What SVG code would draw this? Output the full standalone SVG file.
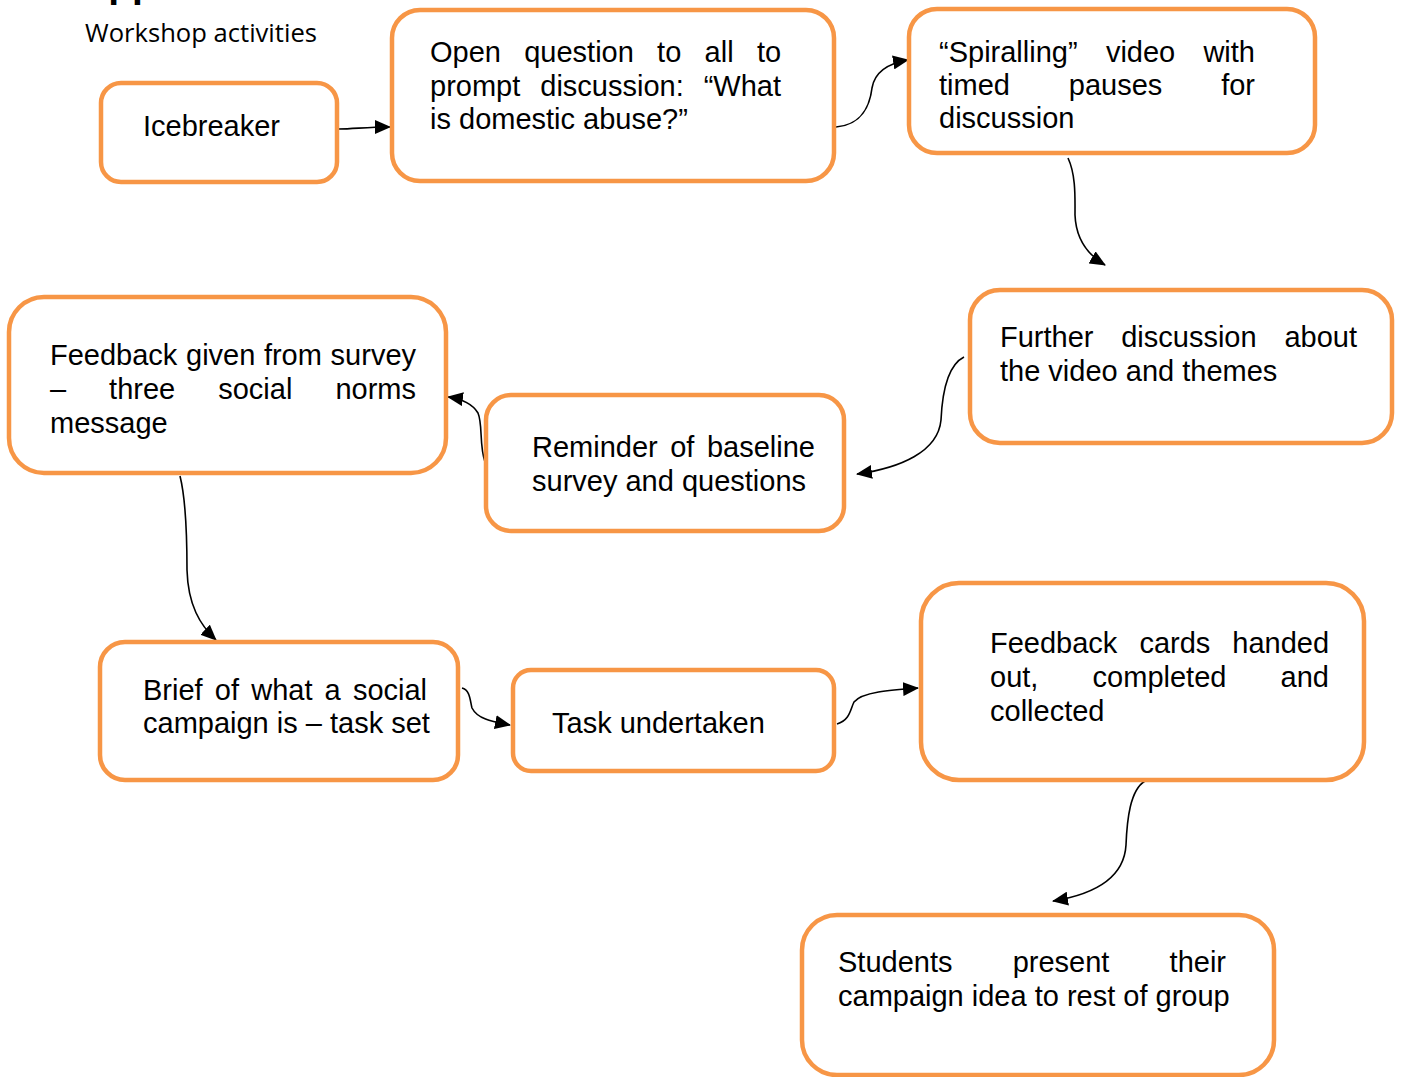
<svg xmlns="http://www.w3.org/2000/svg" width="1403" height="1077" viewBox="0 0 1403 1077">
  <style>
    .box { fill: #ffffff; stroke: #F79646; stroke-width: 4.5; }
    .t { font-family: "Liberation Sans", Arial, sans-serif; font-size: 29px; fill: #000000; }
    .c { fill: none; stroke: #000000; stroke-width: 1.6; marker-end: url(#head); }
    .title { font-family: "Open Sans", "Liberation Sans", sans-serif; font-size: 25px; fill: #000000; }
    .heading { font-family: "Liberation Sans", Arial, sans-serif; font-size: 39px; font-weight: bold; fill: #000000; }
  </style>
  <defs>
    <marker id="head" markerUnits="userSpaceOnUse" markerWidth="16" markerHeight="14" refX="15" refY="7" orient="auto">
      <path d="M0,0 L16,7 L0,14 Z" fill="#000000"/>
    </marker>
  </defs>

  <rect width="1403" height="1077" fill="#ffffff"/>

  <!-- heading (runs off the top edge) and subtitle -->
  <text class="heading" x="80" y="-3">App</text>
  <text class="title" x="85" y="42" textLength="232" lengthAdjust="spacingAndGlyphs">Workshop activities</text>

  <!-- connectors -->
  <g id="connectors">
    <path class="c" d="M338,129 C355,129 365,127 390,127"/>
    <path class="c" d="M836,127 C862,125 870,105 872,88 C875,70 890,63 908,60"/>
    <path class="c" d="M1068,158 C1076,175 1075,198 1075,215 C1076,240 1088,255 1105,265"/>
    <path class="c" d="M964,357 C946,366 942,398 941,420 C938,452 900,468 857,474"/>
    <path class="c" d="M485,462 C479,445 483,425 478,413 C472,403 462,399 448,397"/>
    <path class="c" d="M180,476 C186,500 187,540 187,570 C188,605 200,625 216,640"/>
    <path class="c" d="M462,688 C470,690 470,700 472,708 C478,720 495,722 510,725"/>
    <path class="c" d="M837,724 C850,720 850,710 854,702 C862,692 890,690 918,688"/>
    <path class="c" d="M1145,781 C1130,790 1127,820 1126,845 C1124,880 1090,895 1053,901"/>
  </g>

  <g id="icebreaker">
    <rect class="box" x="101" y="83" width="236" height="99" rx="20"/>
    <text class="t" x="143" y="136">Icebreaker</text>
  </g>

  <g id="open-question">
    <rect class="box" x="392" y="10" width="442" height="171" rx="28"/>
    <text class="t" y="62"><tspan x="430">Open</tspan><tspan x="524.2">question</tspan><tspan x="657.1">to</tspan><tspan x="704.6">all</tspan><tspan x="756.9">to</tspan></text>
    <text class="t" y="96"><tspan x="430">prompt</tspan><tspan x="540.3">discussion:</tspan><tspan x="703.7">“What</tspan></text>
    <text class="t" x="430" y="129">is domestic abuse?”</text>
  </g>

  <g id="spiralling-video">
    <rect class="box" x="909" y="9" width="406" height="144" rx="28"/>
    <text class="t" y="62"><tspan x="939">“Spiralling”</tspan><tspan x="1105.9">video</tspan><tspan x="1203.4">with</tspan></text>
    <text class="t" y="95"><tspan x="939">timed</tspan><tspan x="1068.8">pauses</tspan><tspan x="1221.2">for</tspan></text>
    <text class="t" x="939" y="128">discussion</text>
  </g>

  <g id="further-discussion">
    <rect class="box" x="970" y="290" width="422" height="153" rx="30"/>
    <text class="t" y="347"><tspan x="1000">Further</tspan><tspan x="1121.2">discussion</tspan><tspan x="1284.4">about</tspan></text>
    <text class="t" x="1000" y="381">the video and themes</text>
  </g>

  <g id="reminder">
    <rect class="box" x="486" y="395" width="358" height="136" rx="25"/>
    <text class="t" y="457"><tspan x="532">Reminder</tspan><tspan x="670.2">of</tspan><tspan x="706.9">baseline</tspan></text>
    <text class="t" x="532" y="491">survey and questions</text>
  </g>

  <g id="feedback-survey">
    <rect class="box" x="9" y="297" width="437" height="176" rx="35"/>
    <text class="t" y="365"><tspan x="50">Feedback</tspan><tspan x="186">given</tspan><tspan x="263.9">from</tspan><tspan x="330.6">survey</tspan></text>
    <text class="t" y="399"><tspan x="50">–</tspan><tspan x="109.1">three</tspan><tspan x="218.2">social</tspan><tspan x="335.4">norms</tspan></text>
    <text class="t" x="50" y="433">message</text>
  </g>

  <g id="campaign-brief">
    <rect class="box" x="100" y="642" width="358" height="138" rx="25"/>
    <text class="t" y="700"><tspan x="143">Brief</tspan><tspan x="214.8">of</tspan><tspan x="251.2">what</tspan><tspan x="324.6">a</tspan><tspan x="352.9">social</tspan></text>
    <text class="t" x="143" y="733">campaign is – task set</text>
  </g>

  <g id="task-undertaken">
    <rect class="box" x="513" y="670" width="321" height="101" rx="18"/>
    <text class="t" x="552" y="733">Task undertaken</text>
  </g>

  <g id="feedback-cards">
    <rect class="box" x="921" y="583" width="443" height="197" rx="38"/>
    <text class="t" y="653"><tspan x="990">Feedback</tspan><tspan x="1139.4">cards</tspan><tspan x="1232.3">handed</tspan></text>
    <text class="t" y="687"><tspan x="990">out,</tspan><tspan x="1092.6">completed</tspan><tspan x="1280.6">and</tspan></text>
    <text class="t" x="990" y="721">collected</text>
  </g>

  <g id="students-present">
    <rect class="box" x="802" y="915" width="472" height="160" rx="35"/>
    <text class="t" y="972"><tspan x="838">Students</tspan><tspan x="1012.7">present</tspan><tspan x="1169.6">their</tspan></text>
    <text class="t" x="838" y="1006">campaign idea to rest of group</text>
  </g>
</svg>
